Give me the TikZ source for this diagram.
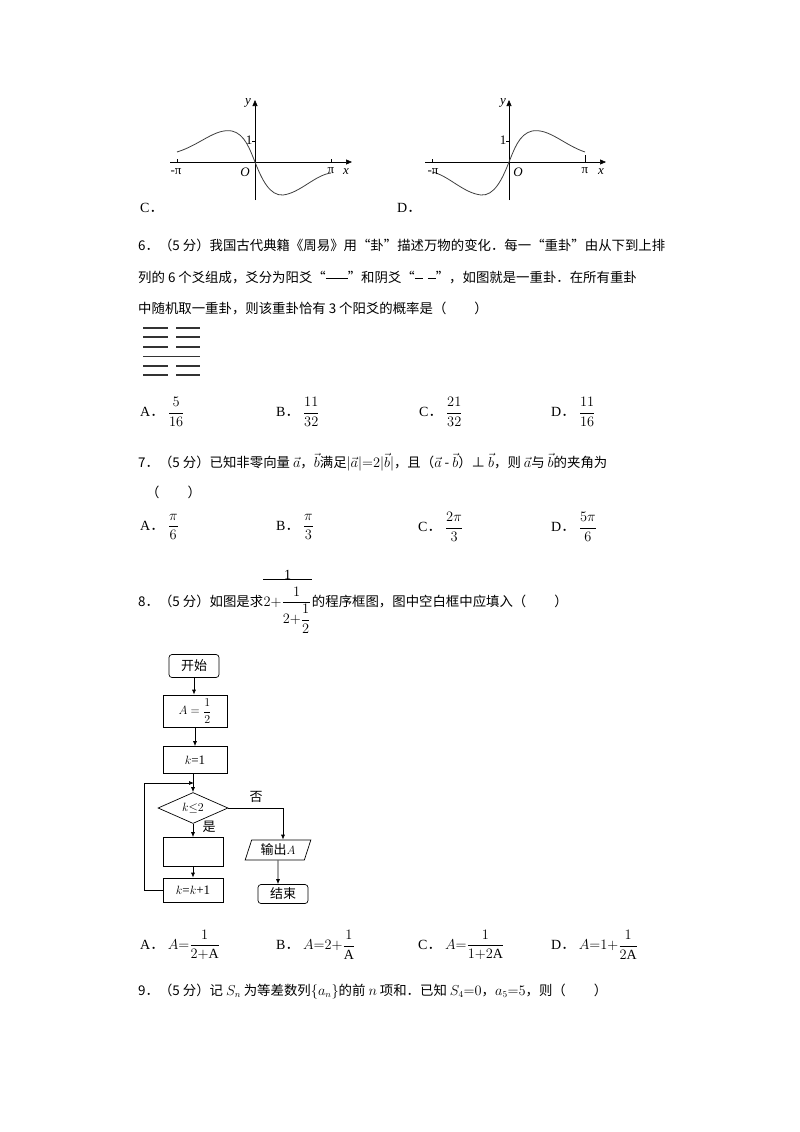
\documentclass[tikz,border=0pt]{standalone}
\usepackage{amsmath}
\usepackage{fontspec}
\setmainfont{Liberation Serif}
\newfontfamily\cjk{Noto Sans CJK SC}
\newcommand{\dd}{{\cjk ．}}
\usetikzlibrary{arrows.meta,shapes.geometric}
\tikzset{
 txt/.style={anchor=base west,inner sep=0pt,font=\fontsize{13.4}{15}\selectfont\cjk},
 opt/.style={anchor=west,inner sep=0pt,font=\fontsize{14}{16}\selectfont},
 ax/.style={line width=0.6pt,-{Triangle[length=6pt,width=5pt]}},
 crv/.style={line width=0.8pt,black!75},
 fbox/.style={draw,line width=0.7pt,inner sep=0pt},
 fl/.style={line width=0.7pt,-{Latex[length=5pt,width=4pt]}},
 small/.style={inner sep=0pt,font=\fontsize{13}{14}\selectfont},
 ism/.style={inner sep=0pt,font=\fontsize{13}{14}\selectfont\itshape},
 yao/.style={line width=1.5pt,black!80}
}
\begin{document}
\begin{tikzpicture}[x=1pt,y=-1pt]
\useasboundingbox[fill=white] (0,0) rectangle (800,1132);
% ---- graph C
\draw[ax] (170,162) -- (352,162);
\draw[ax] (255,200) -- (255,100);
\draw (177,159) -- (177,162); \draw (331,159) -- (331,162);
\draw (252,141) -- (255,141);
\draw[crv] (177,152) .. controls (200,145) and (215,128) .. (232,131) .. controls (245,134) and (250,150) .. (255,162) .. controls (262,180) and (270,196) .. (283,195) .. controls (300,193) and (315,175) .. (331,173);
\node[small] (c1) at (176,172) {-π};
\node[ism] (co) at (245,172) {O};
\node[small] (cp) at (331,171) {π};
\node[ism] (cx) at (346,172) {x};
\node[ism] (cy) at (248,103) {y};
\node[small] (cone) at (249,140) {1};
\node[opt] (lc) at (140,208) {C\dd};
% ---- graph D
\draw[ax] (425,162) -- (606,162);
\draw[ax] (509,200) -- (509,100);
\draw (432,159) -- (432,162); \draw (585,155) -- (585,162);
\draw (506,141) -- (509,141);
\draw[crv] (432,172) .. controls (448,175) and (463,193) .. (481,195) .. controls (494,196) and (502,180) .. (509,162) .. controls (514,150) and (519,134) .. (532,131) .. controls (549,128) and (564,145) .. (585,152);
\node[small] (d1) at (433,172) {-π};
\node[ism] (do) at (518,172) {O};
\node[small] (dp) at (585,171) {π};
\node[ism] (dx) at (601,172) {x};
\node[ism] (dy) at (503,103) {y};
\node[small] (done) at (503,140) {1};
\node[opt] (ld) at (397,208) {D\dd};
% ---- Q6
\node[txt] (q6a) at (138,250) {6．（5 分）我国古代典籍《周易》用“卦”描述万物的变化．每一“重卦”由从下到上排};
\node[txt] (q6b) at (138,282) {列的 6 个爻组成，爻分为阳爻“\raisebox{3pt}{\rule{22pt}{1.3pt}}”和阴爻“\raisebox{3pt}{\rule{8pt}{1.3pt}}\hspace{5pt}\raisebox{3pt}{\rule{8pt}{1.3pt}}”，如图就是一重卦．在所有重卦};
\node[txt] (q6c) at (138,313) {中随机取一重卦，则该重卦恰有 3 个阳爻的概率是（\hspace{28pt}）};
\foreach \yy in {328,337,347,366,375}{
 \draw[yao] (143,\yy) -- (168,\yy); \draw[yao] (176,\yy) -- (200,\yy);}
\draw[yao] (143,356.5) -- (200,356.5);
\node[opt] (a6) at (140,412) {A\dd\ $\dfrac{5}{16}$};
\node[opt] (b6) at (276,412) {B\dd\ $\dfrac{11}{32}$};
\node[opt] (c6) at (419,412) {C\dd\ $\dfrac{21}{32}$};
\node[opt] (d6) at (551,412) {D\dd\ $\dfrac{11}{16}$};
% ---- Q7
\node[txt] (q7a) at (138,467) {7．（5 分）已知非零向量 $\vec{a}$，$\vec{b}$满足$|\vec{a}|{=}2|\vec{b}|$，且（$\vec{a}$ - $\vec{b}$）⊥ $\vec{b}$，则 $\vec{a}$与 $\vec{b}$的夹角为};
\node[txt] (q7b) at (146,497) {（\hspace{28pt}）};
\node[opt] (a7) at (140,527) {A\dd\ $\dfrac{\pi}{6}$};
\node[opt] (b7) at (276,527) {B\dd\ $\dfrac{\pi}{3}$};
\node[opt] (c7) at (418,527) {C\dd\ $\dfrac{2\pi}{3}$};
\node[opt] (d7) at (551,527) {D\dd\ $\dfrac{5\pi}{6}$};
% ---- Q8
\node[txt] (q8) at (138,606) {8．（5 分）如图是求};
\node[anchor=base west,inner sep=0pt,font=\fontsize{13.6}{15}\selectfont] (q8f) at (q8.base east) {$2{+}\dfrac{1}{2{+}\dfrac{1}{2}}$};
\draw[line width=0.5pt] (q8f.west|-0,579) -- (q8f.east|-0,579);
\node[small,font=\fontsize{14}{15}\selectfont,anchor=base] (q8one) at ([yshift=-4pt]q8f.north|-0,575) {1};
\node[txt] (q8b) at (q8f.base east) {的程序框图，图中空白框中应填入（\hspace{28pt}）};
% ---- flowchart
\tikzset{fc/.style={font=\fontsize{13}{14}\selectfont}, fcc/.style={font=\fontsize{13}{14}\selectfont\cjk}}
\node[fbox,rounded corners=3pt,minimum width=50pt,minimum height=23pt,fcc] (start) at (194,666) {开始};
\node[fbox,minimum width=64pt,minimum height=32pt,fc] (ahalf) at (195,711) {$A=\dfrac{1}{2}$};
\node[fbox,minimum width=64pt,minimum height=27pt,fc] (k1) at (195,760) {$k$=1};
\node[diamond,draw,line width=0.7pt,aspect=2.2,minimum width=70pt,minimum height=31pt,inner sep=0pt,fc] (cond) at (193,808) {$k{\le}2$};
\node[fbox,minimum width=60pt,minimum height=29pt] (blank) at (193,852) {};
\node[fbox,minimum width=60pt,minimum height=24pt,fc] (inc) at (193,890) {$k$=$k$+1};
\node[trapezium,trapezium left angle=72,trapezium right angle=108,draw,line width=0.7pt,minimum width=60pt,minimum height=20pt,inner sep=1pt,fcc] (out) at (278,850) {输出$A$};
\node[fbox,rounded corners=3pt,minimum width=50pt,minimum height=19pt,fcc] (end) at (283,894) {结束};
\coordinate (join) at (194,783);
\coordinate (lb) at (144,890);
\coordinate (lt) at (144,783);
\coordinate (br) at (283,808);
\draw[fl] (start) -- (start|-ahalf.north);
\draw[fl] (ahalf) -- (ahalf.south|-k1.north);
\draw[fl] (k1.south-|cond.north) -- (cond.north);
\draw[fl] (cond) -- (blank);
\draw[fl] (blank) -- (inc);
\draw[fl] (inc.west) -- (lb) -- (lt) -- (join);
\draw[fl] (cond.east) -- (br) -- (br|-out.north);
\draw[fl] (out) -- (out|-end.north);
\node[inner sep=0pt,fcc] (no) at (256,797) {否};
\node[inner sep=0pt,fcc] (yes) at (209,827) {是};
% ---- options Q8
\node[opt] (a8) at (140,945) {A\dd\ $A{=}\dfrac{1}{2{+}\mathrm{A}}$};
\node[opt] (b8) at (276,945) {B\dd\ $A{=}2{+}\dfrac{1}{\mathrm{A}}$};
\node[opt] (c8) at (418,945) {C\dd\ $A{=}\dfrac{1}{1{+}2\mathrm{A}}$};
\node[opt] (d8) at (551,945) {D\dd\ $A{=}1{+}\dfrac{1}{2\mathrm{A}}$};
% ---- Q9
\node[txt] (q9) at (138,995) {9．（5 分）记 $S_n$ 为等差数列$\{a_n\}$的前 $n$ 项和．已知 $S_4{=}0$，$a_5{=}5$，则（\hspace{28pt}）};
\end{tikzpicture}
\end{document}
